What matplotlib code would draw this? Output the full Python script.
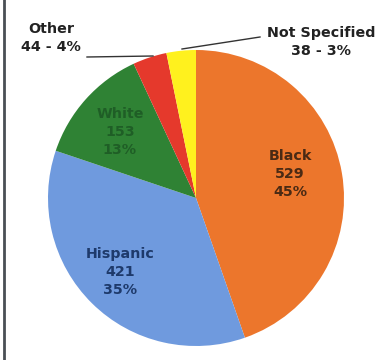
import matplotlib
matplotlib.use("Agg")
import matplotlib.pyplot as plt
from matplotlib.lines import Line2D

categories = ["Black", "Hispanic", "White", "Other", "Not Specified"]
counts = [529, 421, 153, 44, 38]
pct_labels = ["45%", "35%", "13%", "4%", "3%"]
colors = ["#EC762C", "#6F9ADE", "#2F8234", "#E5392C", "#FFF11E"]

W, H = 385, 360
fig = plt.figure(figsize=(W / 100, H / 100), dpi=100)
ax = fig.add_axes([0, 0, 1, 1])

cx, cy, r = 196, H - 198, 148
ax.pie(counts, colors=colors, startangle=90, counterclock=False,
       center=(cx, cy), radius=r, wedgeprops=dict(linewidth=0))
ax.set_xlim(0, W)
ax.set_ylim(0, H)
ax.set_aspect("equal")
ax.set_axis_off()

fp = dict(fontsize=10.3, fontweight="bold", family="DejaVu Sans",
          ha="center", va="center", linespacing=1.4)

# inside labels
ax.text(290, H - 174, f"{categories[0]}\n{counts[0]}\n{pct_labels[0]}",
        color="#4A2A14", **fp)
ax.text(120, H - 272, f"{categories[1]}\n{counts[1]}\n{pct_labels[1]}",
        color="#1E3A6B", **fp)
ax.text(120, H - 132, f"{categories[2]}\n{counts[2]}\n{pct_labels[2]}",
        color="#1F5E26", **fp)

# outside labels
ax.text(51, H - 38, f"{categories[3]}\n{counts[3]} - {pct_labels[3]}",
        color="#222222", **fp)
ax.text(321, H - 42, f"{categories[4]}\n{counts[4]} - {pct_labels[4]}",
        color="#222222", **fp)

# leader lines
ax.add_line(Line2D([87, 153], [H - 57, H - 56], color="#333333", lw=1))
ax.add_line(Line2D([182, 260], [H - 49, H - 37], color="#333333", lw=1))

# left border
fig.add_artist(Line2D([4 / W, 4 / W], [0, 1], color="#4A4F55", lw=2,
                      transform=fig.transFigure))

fig.savefig("out.png", dpi=100)
